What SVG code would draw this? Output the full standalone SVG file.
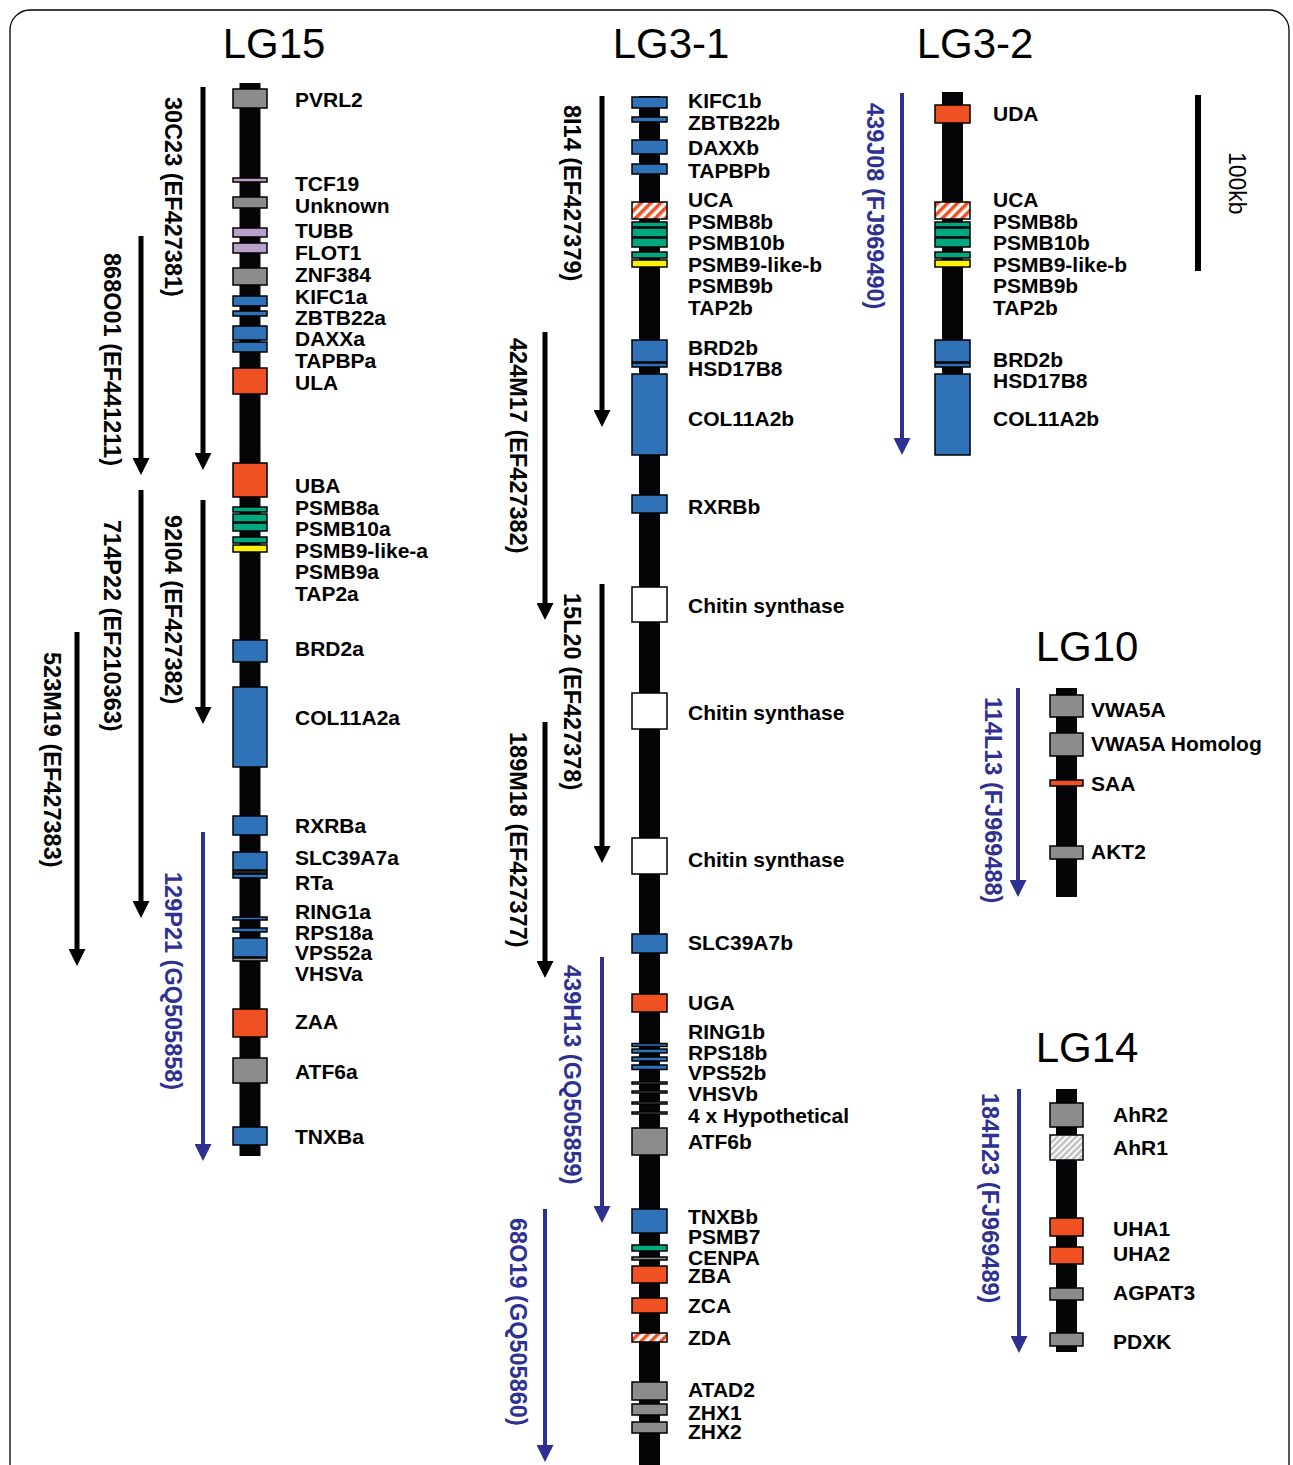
<svg xmlns="http://www.w3.org/2000/svg" width="1293" height="1465" viewBox="0 0 1293 1465">
<style>
.bar{fill:#050508}
.gn rect{stroke:#000;stroke-width:1.5}
.gray{fill:#8c8c8e}.blue{fill:#3072b8}.orange{fill:#ef5123}.green{fill:#00a77f}.yellow{fill:#fff200}.lav{fill:#b9a0cb}.white{fill:#fff}.hatchO{fill:url(#hatchO)}.hatchG{fill:url(#hatchG)}
text{font-family:"Liberation Sans",Arial,Helvetica,sans-serif}
.lbl{font-weight:bold;font-size:21px;fill:#000}
.clone{font-weight:bold;font-size:23.5px;fill:#000}
.cloneB{font-weight:bold;font-size:23.5px;fill:#2e3192}
.title{font-size:42px;fill:#000;text-anchor:middle}
.scale{font-size:23px;fill:#000}
.arr{stroke:#000;stroke-width:5;fill:none;marker-end:url(#ah)}
.arrB{stroke:#2e3192;stroke-width:4;fill:none;marker-end:url(#ahB)}
</style>
<defs>
<marker id="ah" markerUnits="userSpaceOnUse" markerWidth="17" markerHeight="17" viewBox="0 0 17 17" refX="5" refY="8.5" orient="auto"><path d="M0,0 L17,8.5 L0,17 z" fill="#000"/></marker>
<marker id="ahB" markerUnits="userSpaceOnUse" markerWidth="17" markerHeight="17" viewBox="0 0 17 17" refX="5" refY="8.5" orient="auto"><path d="M0,0 L17,8.5 L0,17 z" fill="#2e3192"/></marker>
<pattern id="hatchO" patternUnits="userSpaceOnUse" width="7" height="7" patternTransform="rotate(45)"><rect width="7" height="7" fill="#fff"/><rect width="3.5" height="7" fill="#ef5123"/></pattern>
<pattern id="hatchG" patternUnits="userSpaceOnUse" width="4.5" height="4.5" patternTransform="rotate(45)"><rect width="4.5" height="4.5" fill="#c4c4c4"/><rect width="1.8" height="4.5" fill="#fff"/></pattern>
</defs>
<rect x="10" y="10" width="1279" height="1500" rx="20" fill="#fff" stroke="#000" stroke-width="1.3"/>

<!-- titles -->
<text class="title" x="274" y="58">LG15</text>
<text class="title" x="671" y="58">LG3-1</text>
<text class="title" x="975" y="58">LG3-2</text>
<text class="title" x="1087" y="661">LG10</text>
<text class="title" x="1087" y="1062">LG14</text>

<!-- scale bar -->
<g id="scale">
<rect x="1195" y="95" width="6" height="176" fill="#000"/>
<text class="scale" transform="translate(1229,152) rotate(90)">100kb</text>
</g>

<!-- chromosome bars -->
<g id="bars">
<rect class="bar" x="239.5" y="83" width="21" height="1073"/>
<rect class="bar" x="639" y="96" width="21" height="1375"/>
<rect class="bar" x="942" y="92" width="21" height="363"/>
<rect class="bar" x="1056" y="688" width="21" height="209"/>
<rect class="bar" x="1056" y="1089" width="21" height="263"/>
</g>

<!-- LG15 genes -->
<g id="LG15">
<g class="gn" id="lg15-PVRL2"><rect class="gray" x="233" y="89" width="34" height="19"/><text class="lbl" x="295" y="106.5">PVRL2</text></g>
<g class="gn" id="lg15-TCF19"><rect class="lav" x="233" y="178" width="34" height="4"/><text class="lbl" x="295" y="190.5">TCF19</text></g>
<g class="gn" id="lg15-Unknown"><rect class="gray" x="233" y="197" width="34" height="11"/><text class="lbl" x="295" y="212.5">Unknown</text></g>
<g class="gn" id="lg15-TUBB"><rect class="lav" x="233" y="228" width="34" height="9"/><text class="lbl" x="295" y="237.5">TUBB</text></g>
<g class="gn" id="lg15-FLOT1"><rect class="lav" x="233" y="243" width="34" height="10"/><text class="lbl" x="295" y="259.5">FLOT1</text></g>
<g class="gn" id="lg15-ZNF384"><rect class="gray" x="233" y="268" width="34" height="17"/><text class="lbl" x="295" y="281.5">ZNF384</text></g>
<g class="gn" id="lg15-KIFC1a"><rect class="blue" x="233" y="296" width="34" height="10"/><text class="lbl" x="295" y="303.5">KIFC1a</text></g>
<g class="gn" id="lg15-ZBTB22a"><rect class="blue" x="233" y="311" width="34" height="5"/><text class="lbl" x="295" y="324.5">ZBTB22a</text></g>
<g class="gn" id="lg15-DAXXa"><rect class="blue" x="233" y="326" width="34" height="14"/><text class="lbl" x="295" y="345.5">DAXXa</text></g>
<g class="gn" id="lg15-TAPBPa"><rect class="blue" x="233" y="342" width="34" height="10"/><text class="lbl" x="295" y="367.5">TAPBPa</text></g>
<g class="gn" id="lg15-ULA"><rect class="orange" x="233" y="368" width="34" height="26"/><text class="lbl" x="295" y="389.5">ULA</text></g>
<g class="gn" id="lg15-UBA"><rect class="orange" x="233" y="463" width="34" height="34"/><text class="lbl" x="295" y="492.5">UBA</text></g>
<g class="gn" id="lg15-PSMB8a"><rect class="green" x="233" y="507" width="34" height="5"/><text class="lbl" x="295" y="514.5">PSMB8a</text></g>
<g class="gn" id="lg15-PSMB10a"><rect class="green" x="233" y="514" width="34" height="8"/><rect class="green" x="233" y="523" width="34" height="8"/><text class="lbl" x="295" y="535.5">PSMB10a</text></g>
<g class="gn" id="lg15-PSMB9-like-a"><rect class="green" x="233" y="537" width="34" height="6"/><text class="lbl" x="295" y="557.5">PSMB9-like-a</text></g>
<g class="gn" id="lg15-PSMB9a"><rect class="yellow" x="233" y="545" width="34" height="7"/><text class="lbl" x="295" y="578.5">PSMB9a</text></g>
<g class="gn" id="lg15-TAP2a"><text class="lbl" x="295" y="600.5">TAP2a</text></g>
<g class="gn" id="lg15-BRD2a"><rect class="blue" x="233" y="640" width="34" height="22"/><text class="lbl" x="295" y="655.5">BRD2a</text></g>
<g class="gn" id="lg15-COL11A2a"><rect class="blue" x="233" y="687" width="34" height="80"/><text class="lbl" x="295" y="724.5">COL11A2a</text></g>
<g class="gn" id="lg15-RXRBa"><rect class="blue" x="233" y="816" width="34" height="19"/><text class="lbl" x="295" y="832.5">RXRBa</text></g>
<g class="gn" id="lg15-SLC39A7a"><rect class="blue" x="233" y="852" width="34" height="18"/><text class="lbl" x="295" y="864.5">SLC39A7a</text></g>
<g class="gn" id="lg15-RTa"><rect class="gray" x="233" y="871" width="34" height="2"/><rect class="blue" x="233" y="874" width="34" height="4"/><text class="lbl" x="295" y="889.5">RTa</text></g>
<g class="gn" id="lg15-RING1a"><rect class="blue" x="233" y="917" width="34" height="3"/><text class="lbl" x="295" y="918.5">RING1a</text></g>
<g class="gn" id="lg15-RPS18a"><rect class="blue" x="233" y="928" width="34" height="4"/><text class="lbl" x="295" y="939.5">RPS18a</text></g>
<g class="gn" id="lg15-VPS52a"><rect class="blue" x="233" y="938" width="34" height="19"/><text class="lbl" x="295" y="959.5">VPS52a</text></g>
<g class="gn" id="lg15-VHSVa"><rect class="gray" x="233" y="958" width="34" height="3"/><text class="lbl" x="295" y="980.5">VHSVa</text></g>
<g class="gn" id="lg15-ZAA"><rect class="orange" x="233" y="1009" width="34" height="28"/><text class="lbl" x="295" y="1028.5">ZAA</text></g>
<g class="gn" id="lg15-ATF6a"><rect class="gray" x="233" y="1058" width="34" height="25"/><text class="lbl" x="295" y="1078.5">ATF6a</text></g>
<g class="gn" id="lg15-TNXBa"><rect class="blue" x="233" y="1127" width="34" height="18"/><text class="lbl" x="295" y="1143.5">TNXBa</text></g>
</g>

<!-- LG3-1 genes -->
<g id="LG3-1">
<g class="gn" id="lg31-KIFC1b"><rect class="blue" x="632" y="97" width="35" height="11"/><text class="lbl" x="688" y="107.5">KIFC1b</text></g>
<g class="gn" id="lg31-ZBTB22b"><rect class="blue" x="632" y="117" width="35" height="5"/><text class="lbl" x="688" y="129.5">ZBTB22b</text></g>
<g class="gn" id="lg31-DAXXb"><rect class="blue" x="632" y="140" width="35" height="14"/><text class="lbl" x="688" y="154.5">DAXXb</text></g>
<g class="gn" id="lg31-TAPBPb"><rect class="blue" x="632" y="164" width="35" height="10"/><text class="lbl" x="688" y="177.5">TAPBPb</text></g>
<g class="gn" id="lg31-UCA"><rect class="hatchO" x="632" y="202" width="35" height="17"/><text class="lbl" x="688" y="206.5">UCA</text></g>
<g class="gn" id="lg31-PSMB8b"><rect class="green" x="632" y="222" width="35" height="5"/><text class="lbl" x="688" y="228.5">PSMB8b</text></g>
<g class="gn" id="lg31-PSMB10b"><rect class="green" x="632" y="228" width="35" height="9"/><rect class="green" x="632" y="238" width="35" height="9"/><text class="lbl" x="688" y="249.5">PSMB10b</text></g>
<g class="gn" id="lg31-PSMB9-like-b"><rect class="green" x="632" y="252" width="35" height="6"/><text class="lbl" x="688" y="271.5">PSMB9-like-b</text></g>
<g class="gn" id="lg31-PSMB9b"><rect class="yellow" x="632" y="260" width="35" height="7"/><text class="lbl" x="688" y="292.5">PSMB9b</text></g>
<g class="gn" id="lg31-TAP2b"><text class="lbl" x="688" y="314.5">TAP2b</text></g>
<g class="gn" id="lg31-BRD2b"><rect class="blue" x="632" y="340" width="35" height="22"/><text class="lbl" x="688" y="354.5">BRD2b</text></g>
<g class="gn" id="lg31-HSD17B8"><rect class="blue" x="632" y="363" width="35" height="4"/><text class="lbl" x="688" y="375.5">HSD17B8</text></g>
<g class="gn" id="lg31-COL11A2b"><rect class="blue" x="632" y="374" width="35" height="81"/><text class="lbl" x="688" y="425.5">COL11A2b</text></g>
<g class="gn" id="lg31-RXRBb"><rect class="blue" x="632" y="495" width="35" height="18"/><text class="lbl" x="688" y="513.5">RXRBb</text></g>
<g class="gn" id="lg31-Chitin1"><rect class="white" x="632" y="587" width="35" height="35"/><text class="lbl" x="688" y="612.5">Chitin synthase</text></g>
<g class="gn" id="lg31-Chitin2"><rect class="white" x="632" y="693" width="35" height="36"/><text class="lbl" x="688" y="719.5">Chitin synthase</text></g>
<g class="gn" id="lg31-Chitin3"><rect class="white" x="632" y="838" width="35" height="36"/><text class="lbl" x="688" y="866.5">Chitin synthase</text></g>
<g class="gn" id="lg31-SLC39A7b"><rect class="blue" x="632" y="934" width="35" height="19"/><text class="lbl" x="688" y="949.5">SLC39A7b</text></g>
<g class="gn" id="lg31-UGA"><rect class="orange" x="632" y="994" width="35" height="18"/><text class="lbl" x="688" y="1009.5">UGA</text></g>
<g class="gn" id="lg31-RING1b"><rect class="blue" x="632" y="1043.5" width="35" height="3"/><text class="lbl" x="688" y="1038.5">RING1b</text></g>
<g class="gn" id="lg31-RPS18b"><rect class="blue" x="632" y="1049" width="35" height="4"/><rect class="blue" x="632" y="1057" width="35" height="4"/><text class="lbl" x="688" y="1059.5">RPS18b</text></g>
<g class="gn" id="lg31-VPS52b"><rect class="blue" x="632" y="1065" width="35" height="4.5"/><text class="lbl" x="688" y="1079.5">VPS52b</text></g>
<g class="gn" id="lg31-VHSVb"><rect class="gray" x="632" y="1082" width="35" height="2"/><rect class="gray" x="632" y="1091" width="35" height="2"/><text class="lbl" x="688" y="1100.5">VHSVb</text></g>
<g class="gn" id="lg31-Hypothetical"><rect class="gray" x="632" y="1102" width="35" height="2"/><rect class="gray" x="632" y="1112" width="35" height="2"/><text class="lbl" x="688" y="1122.5">4 x Hypothetical</text></g>
<g class="gn" id="lg31-ATF6b"><rect class="gray" x="632" y="1128" width="35" height="27"/><text class="lbl" x="688" y="1148.5">ATF6b</text></g>
<g class="gn" id="lg31-TNXBb"><rect class="blue" x="632" y="1209" width="35" height="24"/><text class="lbl" x="688" y="1223.5">TNXBb</text></g>
<g class="gn" id="lg31-PSMB7"><rect class="green" x="632" y="1245" width="35" height="6"/><text class="lbl" x="688" y="1243.5">PSMB7</text></g>
<g class="gn" id="lg31-CENPA"><rect class="gray" x="632" y="1257" width="35" height="3"/><text class="lbl" x="688" y="1264.5">CENPA</text></g>
<g class="gn" id="lg31-ZBA"><rect class="orange" x="632" y="1266" width="35" height="17"/><text class="lbl" x="688" y="1282.5">ZBA</text></g>
<g class="gn" id="lg31-ZCA"><rect class="orange" x="632" y="1298" width="35" height="15"/><text class="lbl" x="688" y="1312.5">ZCA</text></g>
<g class="gn" id="lg31-ZDA"><rect class="hatchO" x="632" y="1333" width="35" height="9"/><text class="lbl" x="688" y="1344.5">ZDA</text></g>
<g class="gn" id="lg31-ATAD2"><rect class="gray" x="632" y="1382" width="35" height="18"/><text class="lbl" x="688" y="1396.5">ATAD2</text></g>
<g class="gn" id="lg31-ZHX1"><rect class="gray" x="632" y="1404" width="35" height="11"/><text class="lbl" x="688" y="1419.5">ZHX1</text></g>
<g class="gn" id="lg31-ZHX2"><rect class="gray" x="632" y="1422" width="35" height="11"/><text class="lbl" x="688" y="1438.5">ZHX2</text></g>
</g>

<!-- LG3-2 genes -->
<g id="LG3-2">
<g class="gn" id="lg32-UDA"><rect class="orange" x="935" y="105" width="35" height="18"/><text class="lbl" x="993" y="120.5">UDA</text></g>
<g class="gn" id="lg32-UCA"><rect class="hatchO" x="935" y="202" width="35" height="17"/><text class="lbl" x="993" y="206.5">UCA</text></g>
<g class="gn" id="lg32-PSMB8b"><rect class="green" x="935" y="222" width="35" height="5"/><text class="lbl" x="993" y="228.5">PSMB8b</text></g>
<g class="gn" id="lg32-PSMB10b"><rect class="green" x="935" y="228" width="35" height="9"/><rect class="green" x="935" y="238" width="35" height="9"/><text class="lbl" x="993" y="249.5">PSMB10b</text></g>
<g class="gn" id="lg32-PSMB9-like-b"><rect class="green" x="935" y="252" width="35" height="6"/><text class="lbl" x="993" y="271.5">PSMB9-like-b</text></g>
<g class="gn" id="lg32-PSMB9b"><rect class="yellow" x="935" y="260" width="35" height="7"/><text class="lbl" x="993" y="292.5">PSMB9b</text></g>
<g class="gn" id="lg32-TAP2b"><text class="lbl" x="993" y="314.5">TAP2b</text></g>
<g class="gn" id="lg32-BRD2b"><rect class="blue" x="935" y="340" width="35" height="22"/><text class="lbl" x="993" y="366.5">BRD2b</text></g>
<g class="gn" id="lg32-HSD17B8"><rect class="blue" x="935" y="363" width="35" height="4"/><text class="lbl" x="993" y="387.5">HSD17B8</text></g>
<g class="gn" id="lg32-COL11A2b"><rect class="blue" x="935" y="374" width="35" height="81"/><text class="lbl" x="993" y="425.5">COL11A2b</text></g>
</g>

<!-- LG10 genes -->
<g id="LG10">
<g class="gn" id="lg10-VWA5A"><rect class="gray" x="1050" y="695" width="33" height="22"/><text class="lbl" x="1091" y="716.5">VWA5A</text></g>
<g class="gn" id="lg10-VWA5AH"><rect class="gray" x="1050" y="733" width="33" height="23"/><text class="lbl" x="1091" y="750.5">VWA5A Homolog</text></g>
<g class="gn" id="lg10-SAA"><rect class="orange" x="1050" y="780" width="33" height="6"/><text class="lbl" x="1091" y="790.5">SAA</text></g>
<g class="gn" id="lg10-AKT2"><rect class="gray" x="1050" y="846" width="33" height="13"/><text class="lbl" x="1091" y="858.5">AKT2</text></g>
</g>

<!-- LG14 genes -->
<g id="LG14">
<g class="gn" id="lg14-AhR2"><rect class="gray" x="1050" y="1103" width="33" height="24"/><text class="lbl" x="1113" y="1121.5">AhR2</text></g>
<g class="gn" id="lg14-AhR1"><rect class="hatchG" x="1050" y="1135" width="33" height="25"/><text class="lbl" x="1113" y="1154.5">AhR1</text></g>
<g class="gn" id="lg14-UHA1"><rect class="orange" x="1050" y="1218" width="33" height="18"/><text class="lbl" x="1113" y="1235.5">UHA1</text></g>
<g class="gn" id="lg14-UHA2"><rect class="orange" x="1050" y="1247" width="33" height="17"/><text class="lbl" x="1113" y="1260.5">UHA2</text></g>
<g class="gn" id="lg14-AGPAT3"><rect class="gray" x="1050" y="1288" width="33" height="12"/><text class="lbl" x="1113" y="1299.5">AGPAT3</text></g>
<g class="gn" id="lg14-PDXK"><rect class="gray" x="1050" y="1333" width="33" height="13"/><text class="lbl" x="1113" y="1348.5">PDXK</text></g>
</g>

<!-- clone arrows -->
<g id="connectors">
<line class="arr" x1="203" y1="87" x2="203" y2="458"/>
<line class="arr" x1="141" y1="236" x2="141" y2="463"/>
<line class="arr" x1="141" y1="490" x2="141" y2="906"/>
<line class="arr" x1="203" y1="500" x2="203" y2="712"/>
<line class="arr" x1="77" y1="632" x2="77" y2="954"/>
<line class="arrB" x1="203" y1="832" x2="203" y2="1149"/>
<line class="arr" x1="602" y1="96" x2="602" y2="415"/>
<line class="arr" x1="545" y1="332" x2="545" y2="608"/>
<line class="arr" x1="602" y1="584" x2="602" y2="851"/>
<line class="arr" x1="545" y1="722" x2="545" y2="966"/>
<line class="arrB" x1="602" y1="957" x2="602" y2="1211"/>
<line class="arrB" x1="545" y1="1209" x2="545" y2="1450"/>
<line class="arrB" x1="902" y1="93" x2="902" y2="443"/>
<line class="arrB" x1="1018" y1="688" x2="1018" y2="885"/>
<line class="arrB" x1="1019" y1="1089" x2="1019" y2="1341"/>
</g>

<!-- clone labels -->
<g id="clone-labels">
<text class="clone" transform="translate(164.5,97) rotate(90)">30C23 (EF427381)</text>
<text class="clone" transform="translate(103.5,253) rotate(90)">868O01 (EF441211)</text>
<text class="clone" transform="translate(103.5,520) rotate(90)">714P22 (EF210363)</text>
<text class="clone" transform="translate(164.5,515) rotate(90)">92I04 (EF427382)</text>
<text class="clone" transform="translate(43.5,652) rotate(90)">523M19 (EF427383)</text>
<text class="cloneB" transform="translate(164.5,872) rotate(90)">129P21 (GQ505858)</text>
<text class="clone" transform="translate(563.5,105) rotate(90)">8I14 (EF427379)</text>
<text class="clone" transform="translate(509.5,338) rotate(90)">424M17 (EF427382)</text>
<text class="clone" transform="translate(563.5,593) rotate(90)">15L20 (EF427378)</text>
<text class="clone" transform="translate(509.5,732) rotate(90)">189M18 (EF427377)</text>
<text class="cloneB" transform="translate(563.5,965) rotate(90)">439H13 (GQ505859)</text>
<text class="cloneB" transform="translate(509.5,1218) rotate(90)">68O19 (GQ505860)</text>
<text class="cloneB" transform="translate(866.5,103) rotate(90)">439J08 (FJ969490)</text>
<text class="cloneB" transform="translate(984.5,697) rotate(90)">114L13 (FJ969488)</text>
<text class="cloneB" transform="translate(981.5,1093) rotate(90)">184H23 (FJ969489)</text>
</g>
</svg>
